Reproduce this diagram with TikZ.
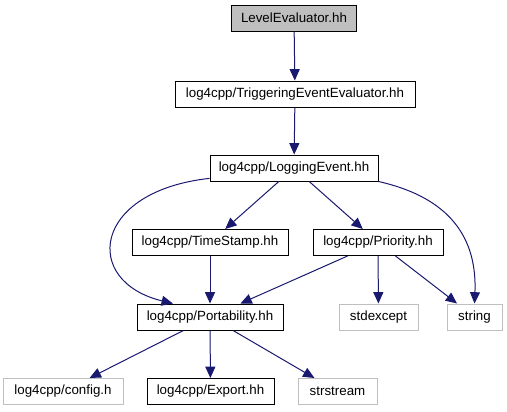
\documentclass[tikz,border=0pt]{standalone}
\usepackage{fontspec}
\setmainfont{Liberation Sans}
\usetikzlibrary{arrows.meta}
\definecolor{edgeblue}{HTML}{191970}
\definecolor{grayline}{HTML}{BFBFBF}
\begin{document}
\begin{tikzpicture}[x=0.75pt, y=-0.75pt,
	hdr/.style={draw=black, line width=0.75pt, minimum height=19.5pt, inner sep=2pt, font=\fontsize{10}{12}\selectfont},
	ext/.style={hdr, draw=grayline},
	dep/.style={-{Triangle[length=8.5pt, width=7.5pt]}, draw=edgeblue, line width=0.75pt}]
		\useasboundingbox (0,0) rectangle (507,411);
		% 头文件
		\node[hdr, fill=grayline, minimum width=93.75pt] (level) at (294,18) {LevelEvaluator.hh};
		\node[hdr, minimum width=180pt] (trig) at (295,94) {log4cpp/TriggeringEventEvaluator.hh};
		\node[hdr, minimum width=126pt] (logev) at (294,168) {log4cpp/LoggingEvent.hh};
		\node[hdr, minimum width=117pt] (tstamp) at (210,242.5) {log4cpp/TimeStamp.hh};
		\node[hdr, minimum width=97.5pt] (prio) at (378,242.5) {log4cpp/Priority.hh};
		\node[hdr, minimum width=109.5pt] (port) at (210,317) {log4cpp/Portability.hh};
		\node[ext, minimum width=59.25pt] (stdex) at (378.5,317) {stdexcept};
		\node[ext, minimum width=41.25pt] (str) at (474.5,317) {string};
		\node[ext, minimum width=90pt] (config) at (63,391.5) {log4cpp/config.h};
		\node[hdr, minimum width=95.25pt] (export) at (210.5,391.5) {log4cpp/Export.hh};
		\node[ext, minimum width=59.25pt] (sstream) at (337.5,391.5) {strstream};
		
		% 包含关系
		\draw[dep] (level) -- (trig);
		\draw[dep] (trig) -- (logev);
		\draw[dep] (logev) -- (tstamp);
		\draw[dep] (logev) -- (prio);
		\draw[dep] (logev.187) .. controls +(-118,13) and +(-91,-22) .. (port.160);
		\draw[dep] (logev.south east) .. controls +(62,14) and +(3,-74) .. (str.north);
		\draw[dep] (tstamp) -- (port);
		\draw[dep] (prio) -- (port);
		\draw[dep] (prio) -- (stdex);
		\draw[dep] (prio) -- (str);
		\draw[dep] (port) -- (config);
		\draw[dep] (port) -- (export);
		\draw[dep] (port) -- (sstream);
\end{tikzpicture}
\end{document}
